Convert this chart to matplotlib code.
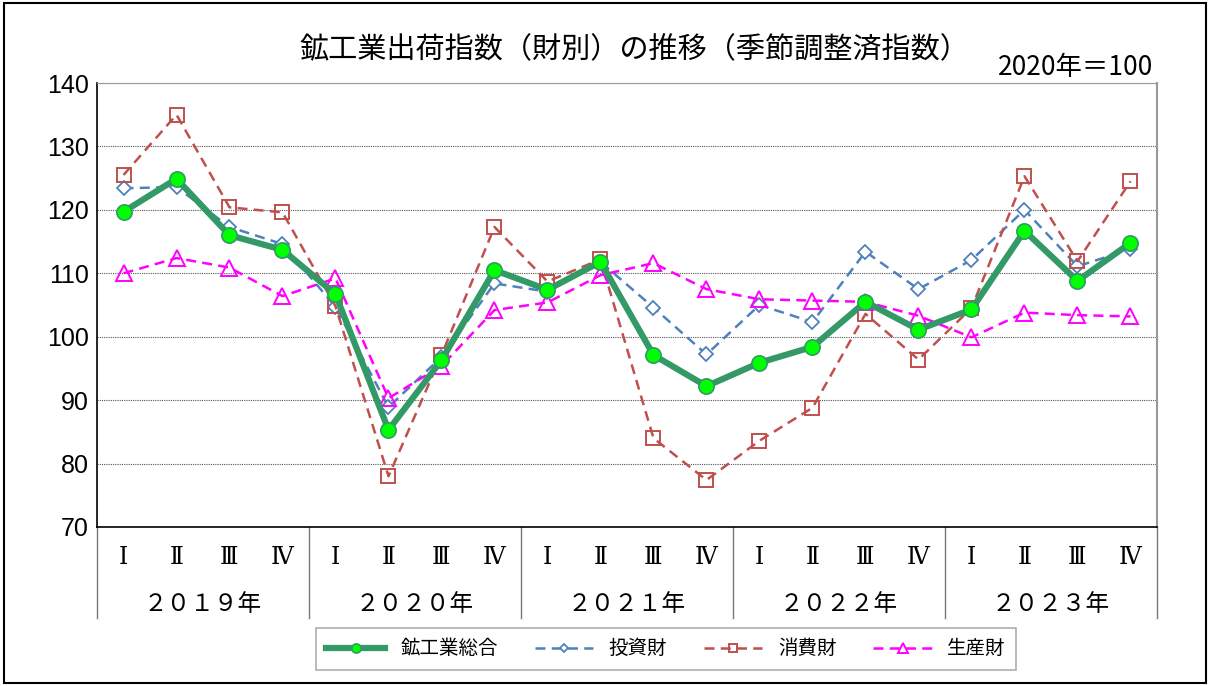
import matplotlib
matplotlib.use("Agg")
import matplotlib.pyplot as plt
from matplotlib.patches import Rectangle
import matplotlib.transforms as mtransforms

plt.rcParams['font.family'] = ['Noto Sans CJK JP', 'DejaVu Sans']

# ---------------------------Data--------------------------------------------
years = ["２０１９年", "２０２０年", "２０２１年", "２０２２年", "２０２３年"]
quarters = ["Ⅰ", "Ⅱ", "Ⅲ", "Ⅳ"]

total = [119.7, 124.9, 116.0, 113.7, 106.7, 85.3, 96.3, 110.5, 107.4, 111.8,
         97.1, 92.2, 95.9, 98.4, 105.5, 101.1, 104.3, 116.7, 108.8, 114.8]
invest = [123.4, 123.6, 117.3, 114.6, 104.7, 88.9, 96.8, 108.4, 107.1, 111.8,
          104.6, 97.2, 105.0, 102.3, 113.4, 107.5, 112.1, 120.0, 111.1, 113.8]
consumer = [125.5, 135.0, 120.4, 119.6, 104.8, 78.0, 97.1, 117.3, 108.7, 112.2,
            84.0, 77.4, 83.6, 88.8, 103.6, 96.4, 104.5, 125.3, 111.9, 124.5]
producer = [110.0, 112.4, 110.9, 106.4, 109.2, 90.3, 95.4, 104.2, 105.4, 109.7,
            111.6, 107.5, 105.9, 105.7, 105.5, 103.3, 99.9, 103.8, 103.4, 103.2]


def main():
    fig = plt.figure(figsize=(12.11, 6.86), dpi=100)
    ax = fig.add_axes([0.0801, 0.2318, 0.8753, 0.6472])

    x = list(range(len(total)))

    # the grid lines behind everything
    for v in range(80, 141, 10):
        ax.axhline(v, color="#555555", lw=0.8, ls=(0, (1, 1)), zorder=0)

    h_inv, = ax.plot(x, invest, color="#4F81BD", lw=1.8, ls=(0, (4, 2.5)), marker="D",
                     ms=7, mfc="white", mec="#4F81BD", mew=1.3, label="投資財", zorder=3)
    h_con, = ax.plot(x, consumer, color="#C0504D", lw=1.8, ls=(0, (4, 2.5)), marker="s",
                     ms=10, mfc="none", mec="#C0504D", mew=1.4, label="消費財", zorder=3)
    h_pro, = ax.plot(x, producer, color="#FF00FF", lw=1.8, ls=(0, (4, 2.5)), marker="^",
                     ms=11, mfc="none", mec="#FF00FF", mew=1.4, label="生産財", zorder=3)
    h_tot, = ax.plot(x, total, color="#339966", lw=4.5, marker="o", ms=11,
                     mfc="#00FF00", mec="#339966", mew=1.2, label="鉱工業総合", zorder=4)

    ax.set_xlim(-0.5, len(total) - 0.5)
    ax.set_ylim(70, 140)
    ax.set_yticks(range(70, 141, 10))
    ax.tick_params(axis="y", length=0, pad=6)
    for lbl in ax.get_yticklabels():
        lbl.set_fontsize(18)
        lbl.set_family(["Liberation Sans", "DejaVu Sans"])
    ax.set_xticks([])

    for side in ["top", "right"]:
        ax.spines[side].set_color("#999999")
    ax.spines["right"].set_linewidth(1.5)
    ax.spines["top"].set_linestyle((0, (1, 1)))
    ax.spines["left"].set_linewidth(1.2)
    ax.spines["bottom"].set_linewidth(1.2)

    # category axis drawn as a small table under the plot
    trans = mtransforms.blended_transform_factory(ax.transData, ax.transAxes)
    for i in range(len(total)):
        ax.text(i, -0.068, quarters[i % 4], transform=trans, ha="center",
                va="center", fontsize=17, family=["DejaVu Serif", "Noto Sans CJK JP"])
    for j, yr in enumerate(years):
        ax.text(4 * j + 1.5, -0.175, yr, transform=trans, ha="center",
                va="center", fontsize=17)
    for j in range(len(years) + 1):
        ax.plot([4 * j - 0.5, 4 * j - 0.5], [0, -0.205], transform=trans,
                color="#777777", lw=1.0, clip_on=False)

    leg = fig.legend(loc="center", bbox_to_anchor=(0.55, 0.054), ncol=4,
                     handles=[h_tot, h_inv, h_con, h_pro],
                     fontsize=14, frameon=True, fancybox=False, handlelength=3.0,
                     columnspacing=1.9, borderpad=0.55, markerscale=0.6)
    leg.get_frame().set_edgecolor("#999999")
    leg.get_frame().set_linewidth(1.2)

    fig.text(0.524, 0.927, "鉱工業出荷指数（財別）の推移（季節調整済指数）",
             ha="center", va="center", fontsize=21)
    fig.text(0.888, 0.902, "2020年＝100", ha="center", va="center", fontsize=19)

    fig.patches.append(Rectangle((0.003, 0.004), 0.993, 0.991, transform=fig.transFigure,
                                 fill=False, ec="black", lw=1.5))

    fig.savefig("out.png", dpi=100)


if __name__ == '__main__':
    main()
